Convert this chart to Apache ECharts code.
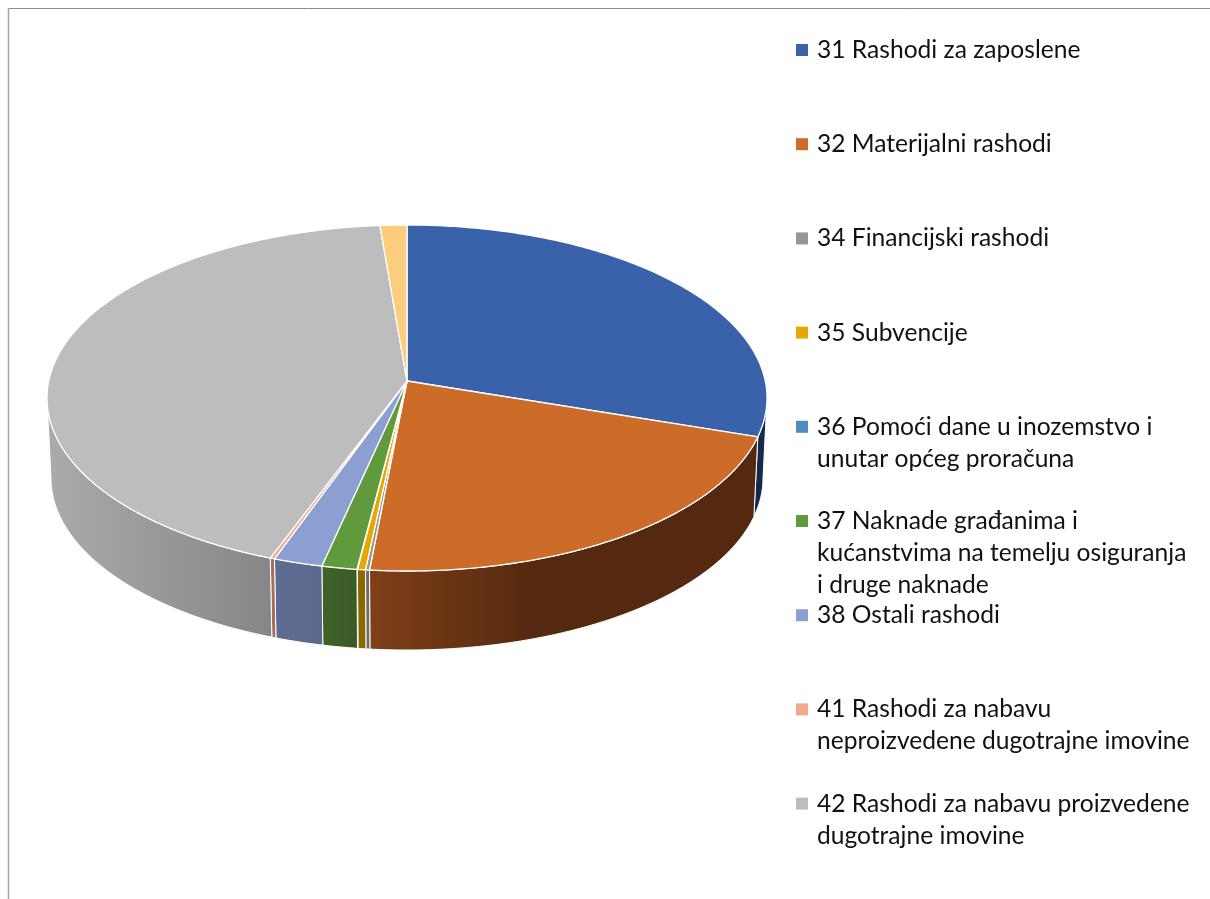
<!DOCTYPE html>
<html><head><meta charset="utf-8">
<style>html,body{margin:0;padding:0;background:#fff}#c{width:1210px;height:899px}</style>
<script src="https://cdn.jsdelivr.net/npm/echarts@6/dist/echarts.min.js"></script>
</head><body><div id="c"></div>
<script>
const categories = [
  '31 Rashodi za zaposlene',
  '32 Materijalni rashodi',
  '34 Financijski rashodi',
  '35 Subvencije',
  '36 Pomoći dane u inozemstvo i\nunutar općeg proračuna',
  '37 Naknade građanima i\nkućanstvima na temelju osiguranja\ni druge naknade',
  '38 Ostali rashodi',
  '41 Rashodi za nabavu\nneproizvedene dugotrajne imovine',
  '42 Rashodi za nabavu proizvedene\ndugotrajne imovine',
  '45 Rashodi za dodatna ulaganja'
];
const shownInLegend = 9;
const values = [28.6, 23.06, 0.18, 0.36, 0.02, 1.58, 2.2, 0.2, 42.6, 1.2];
const topColors = ['#3a62aa','#cd6b28','#969696','#e6a800','#4f8ac0','#5f9a3d','#8b9fd3','#f0a98a','#bdbdbd','#fbcd7d'];
const sideFrom = ['#14294d','#7f3f18','#707070','#8a6a00','#2f5478','#3f6329','#5f6c91','#a56f5c','#ababab','#a07a40'];
const sideTo   = ['#14294d','#54290f','#6a6a6a','#8a6a00','#2f5478','#3a5a26','#5c688c','#a56f5c','#868686','#a07a40'];

const total = values.reduce((a, b) => a + b, 0);
const geo = {cx: 407, cy: 398, rx: 360, ry: 173, ax: 407, ay: 381, bx: 407, by: 478, brx: 356, bry: 172};
const rad = v => v / total * Math.PI * 2;
const topPt = t => [geo.cx + geo.rx * Math.sin(t), geo.cy - geo.ry * Math.cos(t)];
const botPt = t => [geo.bx + geo.brx * Math.sin(t), geo.by - geo.bry * Math.cos(t)];
function arc(fn, a, b) {
  const n = Math.max(2, Math.ceil(Math.abs(b - a) / 0.01)), out = [];
  for (let i = 0; i <= n; i++) out.push(fn(a + (b - a) * i / n));
  return out;
}
function renderSlice(params, api) {
  const i = params.seriesIndex;
  const start = rad(values.slice(0, i).reduce((a, b) => a + b, 0));
  const end = start + rad(api.value(0));
  const children = [{
    type: 'polygon', z2: 3,
    shape: {points: [[geo.ax, geo.ay]].concat(arc(topPt, start, end))},
    style: {fill: topColors[i], stroke: '#fff', lineWidth: 1.3, lineJoin: 'round'}
  }];
  const s = Math.max(start, Math.PI / 2), e = Math.min(end, Math.PI * 1.5);
  if (e > s) {
    const pts = arc(topPt, s, e).concat(arc(botPt, s, e).reverse());
    const xs = pts.map(p => p[0]);
    const span = i === 1 ? [368, 535] : [Math.min.apply(null, xs), Math.max.apply(null, xs)];
    children.push({
      type: 'polygon', z2: 1,
      shape: {points: pts},
      style: {
        fill: {type: 'linear', global: true, x: span[0], y: 0, x2: span[1], y2: 0,
          colorStops: [{offset: 0, color: sideFrom[i]}, {offset: 1, color: sideTo[i]}]},
        stroke: '#fff', lineWidth: 1
      }
    });
  }
  return {type: 'group', children};
}

const legendCenterFirst = 50, legendStep = 94.2, lineH = 32;
const legends = categories.slice(0, shownInLegend).map((name, i) => {
  const n = name.split('\n').length;
  return {
    left: 796,
    top: legendCenterFirst + i * legendStep - lineH * (2 * n - 1) / 2,
    padding: 0, orient: 'vertical', itemWidth: 12, itemHeight: 12, icon: 'rect',
    selectedMode: false, data: [name],
    formatter: t => '\n'.repeat(n - 1) + t,
    textStyle: {fontFamily: 'Lato', fontSize: 24.6, color: '#111', lineHeight: lineH, padding: [0, 0, 0, 4]}
  };
});

const chart = echarts.init(document.getElementById('c'), null, {renderer: 'canvas'});
chart.setOption({
  animation: false,
  backgroundColor: '#fff',
  graphic: [
    {type: 'line', shape: {x1: 8, y1: 8.5, x2: 1210, y2: 8.5}, style: {stroke: '#8c8c8c', lineWidth: 1}, silent: true},
    {type: 'line', shape: {x1: 8.5, y1: 8, x2: 8.5, y2: 899}, style: {stroke: '#a6a6a6', lineWidth: 1.5}, silent: true}
  ],
  legend: legends,
  series: categories.map((name, i) => ({
    type: 'custom', name, coordinateSystem: 'none',
    itemStyle: {color: topColors[i]},
    data: [[values[i]]],
    renderItem: renderSlice
  }))
});
</script></body></html>
